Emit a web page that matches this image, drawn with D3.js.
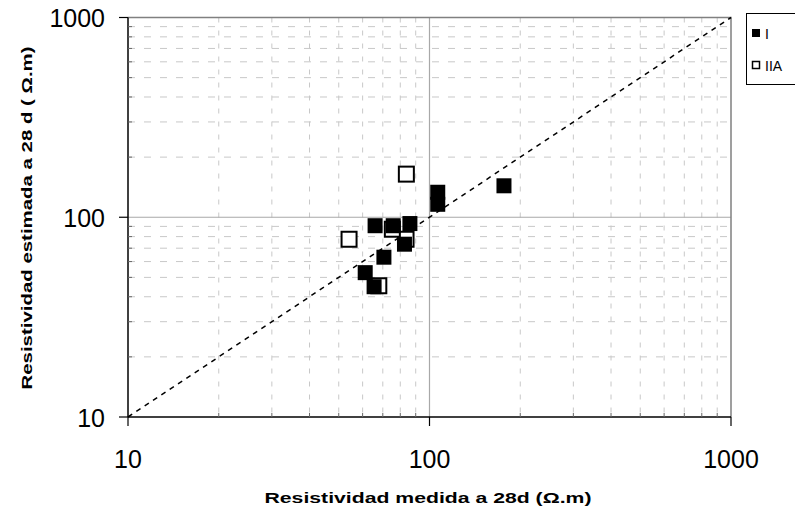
<!DOCTYPE html>
<html><head><meta charset="utf-8">
<script src="https://cdn.jsdelivr.net/npm/d3@7"></script>
<style>body{margin:0;background:#fff}svg{display:block;font-family:"Liberation Sans",Arial,sans-serif}</style>
</head><body>
<svg id="c" width="795" height="518"></svg>
<script>
// Data
const seriesINames = "I";
const seriesIX = [106.5, 106.5, 176.6, 66, 75.8, 86.1, 82.6, 70.6, 61.2, 65.5];
const seriesIY = [133.4, 116.1, 143.7, 90.7, 90.7, 93.0, 73.3, 63.1, 52.8, 44.9];
const seriesIIAName = "IIA";
const seriesIIAX = [83.8, 54.1, 67.9, 83.6, 75.3];
const seriesIIAY = [164.4, 77.6, 45.4, 77.6, 87.1];
const tickValues = [10, 100, 1000];
const tickLabels = ["10", "100", "1000"];
const diagonal = [10, 1000];
const xTitle = "Resistividad medida a 28d (\u03A9.m)";
const yTitle = "Resistividad estimada a 28 d ( \u03A9.m)";

const svg = d3.select("#c");
const x = d3.scaleLog().domain([10, 1000]).range([128, 731]);
const y = d3.scaleLog().domain([10, 1000]).range([417, 17.5]);

const minor = [];
[10, 100].forEach(d => { for (let k = 2; k <= 9; k++) minor.push(d * k); });

const g = svg.append("g");
// minor grid
g.selectAll(".vm").data(minor).join("line")
  .attr("x1", d => x(d)).attr("x2", d => x(d)).attr("y1", y(1000)).attr("y2", y(10))
  .attr("stroke", "#c8c8c8").attr("stroke-width", 1).attr("stroke-dasharray", "5,8");
g.selectAll(".hm").data(minor).join("line")
  .attr("y1", d => y(d)).attr("y2", d => y(d)).attr("x1", x(10)).attr("x2", x(1000))
  .attr("stroke", "#c8c8c8").attr("stroke-width", 1).attr("stroke-dasharray", "7,9");
// major grid
g.append("line").attr("x1", x(100)).attr("x2", x(100)).attr("y1", y(1000)).attr("y2", y(10))
  .attr("stroke", "#a8a8a8").attr("stroke-width", 1.2);
g.append("line").attr("y1", y(100)).attr("y2", y(100)).attr("x1", x(10)).attr("x2", x(1000))
  .attr("stroke", "#a8a8a8").attr("stroke-width", 1.2);
// top/right frame
g.append("path").attr("d", `M${x(10)},${y(1000)}H${x(1000)}V${y(10)}`)
  .attr("fill", "none").attr("stroke", "#808080").attr("stroke-width", 1.5);

// diagonal
svg.append("line").attr("x1", x(diagonal[0])).attr("y1", y(diagonal[0]))
  .attr("x2", x(diagonal[1])).attr("y2", y(diagonal[1]))
  .attr("stroke", "#000").attr("stroke-width", 1.5).attr("stroke-dasharray", "5,5");

// axes
const xAxis = svg.append("g").attr("transform", `translate(0,${y(10)})`);
xAxis.append("line").attr("x1", x(10)).attr("x2", x(1000)).attr("stroke", "#000").attr("stroke-width", 1.5);
xAxis.selectAll(".t").data(tickValues).join("line").attr("x1", d => x(d)).attr("x2", d => x(d))
  .attr("y1", 0).attr("y2", 9).attr("stroke", "#000").attr("stroke-width", 1.2);
xAxis.selectAll(".m").data(minor).join("line").attr("x1", d => x(d)).attr("x2", d => x(d))
  .attr("y1", 0).attr("y2", -4).attr("stroke", "#666").attr("stroke-width", 1);
xAxis.selectAll("text").data(tickValues).join("text").attr("x", d => x(d)).attr("y", 51)
  .attr("text-anchor", "middle").attr("font-size", 25).attr("fill", "#000")
  .text((d, i) => tickLabels[i]);

const yAxis = svg.append("g").attr("transform", `translate(${x(10)},0)`);
yAxis.append("line").attr("y1", y(10)).attr("y2", y(1000)).attr("stroke", "#000").attr("stroke-width", 1.5);
yAxis.selectAll(".t").data(tickValues).join("line").attr("y1", d => y(d)).attr("y2", d => y(d))
  .attr("x1", 0).attr("x2", -9).attr("stroke", "#000").attr("stroke-width", 1.2);
yAxis.selectAll(".m").data(minor).join("line").attr("y1", d => y(d)).attr("y2", d => y(d))
  .attr("x1", 0).attr("x2", 4).attr("stroke", "#666").attr("stroke-width", 1);
yAxis.selectAll("text").data(tickValues).join("text").attr("x", -23).attr("y", d => y(d) + 9.5)
  .attr("text-anchor", "end").attr("font-size", 25).attr("fill", "#000")
  .text((d, i) => tickLabels[i]);

// titles
svg.append("text").attr("x", 428).attr("y", 503).attr("text-anchor", "middle")
  .attr("font-size", 15).attr("font-weight", "bold").attr("textLength", 327)
  .attr("lengthAdjust", "spacingAndGlyphs").text(xTitle);
svg.append("text").attr("transform", "translate(32,218) rotate(-90)").attr("text-anchor", "middle")
  .attr("font-size", 15).attr("font-weight", "bold").attr("textLength", 343)
  .attr("lengthAdjust", "spacingAndGlyphs").text(yTitle);

// data: open first, filled on top
const iia = seriesIIAX.map((v, i) => ({x: v, y: seriesIIAY[i]}));
const s1 = seriesIX.map((v, i) => ({x: v, y: seriesIY[i]}));
svg.append("g").selectAll("rect").data(iia).join("rect")
  .attr("x", d => x(d.x) - 7.5).attr("y", d => y(d.y) - 7.5).attr("width", 15).attr("height", 15)
  .attr("fill", "#fff").attr("stroke", "#000").attr("stroke-width", 2);
svg.append("g").selectAll("rect").data(s1).join("rect")
  .attr("x", d => x(d.x) - 7.5).attr("y", d => y(d.y) - 7.5).attr("width", 15).attr("height", 15)
  .attr("fill", "#000");

// legend
const lg = svg.append("g");
lg.append("rect").attr("x", 746.5).attr("y", 13.5).attr("width", 60).attr("height", 71)
  .attr("fill", "#fff").attr("stroke", "#000").attr("stroke-width", 1);
lg.append("rect").attr("x", 752).attr("y", 29).attr("width", 8).attr("height", 8).attr("fill", "#000");
lg.append("rect").attr("x", 752.5).attr("y", 61.5).attr("width", 7).attr("height", 7)
  .attr("fill", "#fff").attr("stroke", "#000").attr("stroke-width", 1.5);
lg.append("text").attr("x", 765).attr("y", 38.5).attr("font-size", 14).text(seriesINames);
lg.append("text").attr("x", 765).attr("y", 70.5).attr("font-size", 14).text(seriesIIAName);
</script>
</body></html>
